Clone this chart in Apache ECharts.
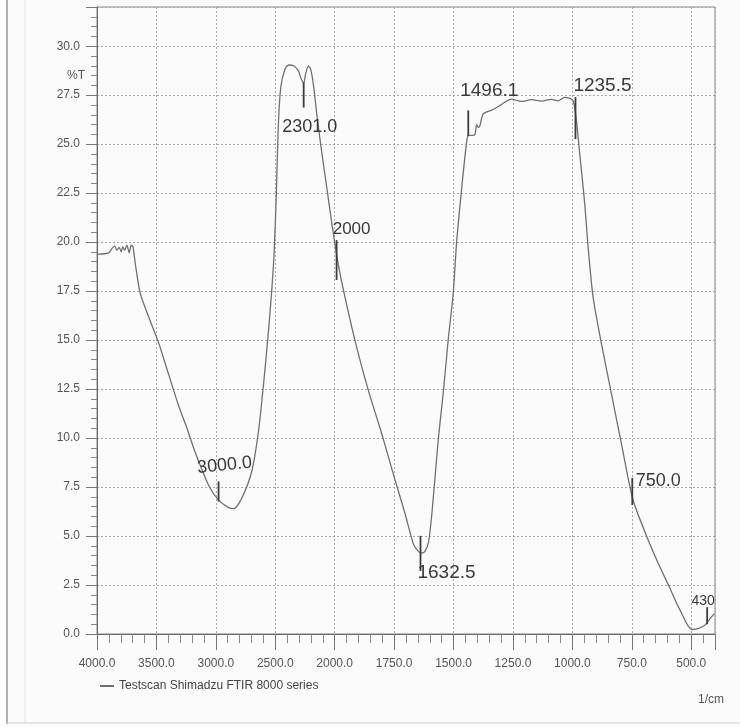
<!DOCTYPE html>
<html><head><meta charset="utf-8">
<script src="https://cdn.jsdelivr.net/npm/echarts@6/dist/echarts.min.js"></script>
<style>html,body{margin:0;padding:0;background:#fbfbfb}#c{width:740px;height:727px}</style>
</head><body><div id="c"></div>
<script>
// ---- data ----
const seriesName = 'Testscan Shimadzu FTIR 8000 series';
const xTickValues = [4000, 3500, 3000, 2500, 2000, 1750, 1500, 1250, 1000, 750, 500];
const xAxisEnd = 400;
const wavenumbers = [4000, 3986, 3902, 3874, 3851, 3832, 3813, 3796, 3784, 3767, 3748, 3729, 3712, 3697, 3678, 3636, 3560, 3482, 3400, 3313, 3240, 3174, 3061, 2977, 2893, 2850, 2782, 2697, 2641, 2599, 2557, 2515, 2492, 2475, 2454, 2420, 2387, 2345, 2305, 2286, 2261, 2244, 2221, 2201, 2176, 2151, 2109, 2067, 2025, 1991, 1971, 1915, 1859, 1803, 1747, 1705, 1669, 1648, 1635, 1621, 1605, 1590, 1564, 1543, 1522, 1501, 1487, 1466, 1445, 1438, 1424, 1410, 1403, 1396, 1389, 1375, 1340, 1312, 1291, 1256, 1214, 1172, 1130, 1088, 1060, 1032, 1004, 993, 983, 969, 948, 934, 913, 878, 836, 794, 745, 682, 640, 591, 563, 542, 514, 493, 472, 444, 415, 402];
const transmittance = [19.4, 19.39, 19.45, 19.68, 19.8, 19.59, 19.73, 19.51, 19.76, 19.59, 19.85, 19.45, 19.85, 19.76, 18.91, 17.38, 16.1, 14.87, 13.3, 11.65, 10.45, 9.28, 7.59, 6.83, 6.45, 6.4, 6.93, 8.32, 10.36, 12.73, 15.47, 18.86, 22.26, 25.84, 27.88, 28.8, 29.04, 29.0, 28.74, 28.4, 28.1, 28.6, 29.0, 28.8, 27.9, 26.54, 24.59, 22.8, 21.0, 19.3, 18.0, 15.0, 12.46, 10.26, 7.89, 6.19, 4.6, 4.22, 4.13, 4.2, 4.7, 6.3, 9.95, 12.34, 15.07, 17.44, 20.0, 22.72, 25.1, 25.45, 25.45, 25.5, 26.0, 25.85, 25.95, 26.55, 26.74, 26.91, 27.09, 27.3, 27.18, 27.27, 27.2, 27.29, 27.21, 27.39, 27.3, 27.05, 26.2, 24.5, 21.95, 19.77, 17.2, 14.83, 12.28, 9.73, 6.85, 4.82, 3.64, 2.37, 1.61, 1.1, 0.43, 0.23, 0.27, 0.44, 0.87, 1.04];
const yMin = 0, yMax = 32, yStep = 2.5;
// handwritten peak annotations
const annotationLabels = ['3000.0', '2301.0', '2000', '1632.5', '1496.1', '1235.5', '750.0', '430'];
const annotationWavenumbers = [2977, 2261, 1992, 1639, 1438, 987, 748, 433];
const annotationTop = [7.79, 28.15, 20.1, 5.01, 26.72, 27.4, 7.96, 1.37];
const annotationBottom = [6.76, 26.87, 18.07, 3.22, 25.4, 25.26, 6.58, 0.5];

// ---- styling (pixel offsets of handwritten text relative to mark top) ----
const annotationStyle = [
  {dx: 6, dy: -16, rot: 0.1, size: 18},
  {dx: 6, dy: 45, rot: 0, size: 18},
  {dx: 15, dy: -11, rot: 0, size: 17},
  {dx: 26, dy: 37, rot: 0, size: 19},
  {dx: 21, dy: -20, rot: 0, size: 19},
  {dx: 27, dy: -11, rot: 0, size: 19},
  {dx: 26, dy: 3, rot: 0, size: 18},
  {dx: -4, dy: -6, rot: 0, size: 14}
];

// piecewise-linear wavenumber axis (the instrument scale halves its step at 2000)
function toPos(wn) {
  for (let i = 0; i < xTickValues.length - 1; i++) {
    const a = xTickValues[i], b = xTickValues[i + 1];
    if (wn <= a && wn >= b) return i + (a - wn) / (a - b);
  }
  const n = xTickValues.length - 1;
  const step = xTickValues[n - 1] - xTickValues[n];
  return n + (xTickValues[n] - wn) / step;
}

const lineData = wavenumbers.map((w, i) => [toPos(w), transmittance[i]]);
const annData = annotationLabels.map((t, i) => [toPos(annotationWavenumbers[i]), annotationTop[i], annotationBottom[i], i]);

const sans = "'Liberation Sans', Arial, sans-serif";
const chart = echarts.init(document.getElementById('c'), null, {renderer: 'canvas'});
chart.setOption({
  backgroundColor: '#fbfbfb',
  animation: false,
  grid: {left: 97, right: 25, top: 7, bottom: 93, show: true, borderColor: '#8a8a8a', borderWidth: 1},
  legend: {
    data: [seriesName], left: 94, top: 675, itemWidth: 14, itemHeight: 2, itemGap: 6,
    textStyle: {fontFamily: sans, fontSize: 12, color: '#444'}
  },
  xAxis: {
    type: 'value', min: 0, max: toPos(xAxisEnd), interval: 1,
    axisLine: {show: true, lineStyle: {color: '#666', width: 1}},
    axisTick: {show: true, length: 16, lineStyle: {color: '#777'}},
    minorTick: {show: true, splitNumber: 5, length: 9, lineStyle: {color: '#888'}},
    axisLabel: {
      showMaxLabel: false, margin: 24, color: '#555', fontFamily: sans, fontSize: 12,
      formatter: v => (Number.isInteger(v) && xTickValues[v] != null) ? xTickValues[v].toFixed(1) : ''
    },
    splitLine: {show: true, lineStyle: {color: '#a8a8a8', type: [2, 2], width: 1}}
  },
  yAxis: {
    type: 'value', min: yMin, max: yMax, interval: yStep,
    axisLine: {show: true, lineStyle: {color: '#666', width: 1}},
    axisTick: {show: true, length: 11, lineStyle: {color: '#777'}},
    minorTick: {show: true, splitNumber: 5, length: 6, lineStyle: {color: '#888'}},
    axisLabel: {showMaxLabel: false, margin: 17, color: '#555', fontFamily: sans, fontSize: 12,
      formatter: v => v.toFixed(1)},
    splitLine: {show: true, lineStyle: {color: '#a8a8a8', type: [2, 2], width: 1}}
  },
  series: [
    {
      name: seriesName, type: 'line', data: lineData, symbol: 'none', smooth: 0.25,
      lineStyle: {color: '#707070', width: 1.3}, itemStyle: {color: '#707070'}
    },
    {
      name: 'annotations', type: 'custom', data: annData, clip: false, z: 5,
      encode: {x: 0, y: [1, 2]},
      renderItem: function (params, api) {
        const idx = api.value(3);
        const p1 = api.coord([api.value(0), api.value(1)]);
        const p2 = api.coord([api.value(0), api.value(2)]);
        const s = annotationStyle[idx];
        return {
          type: 'group', children: [
            {type: 'line', shape: {x1: p1[0], y1: p1[1], x2: p2[0], y2: p2[1]},
              style: {stroke: '#3c3c3c', lineWidth: 1.8}},
            {type: 'text', x: p1[0] + s.dx, y: p1[1] + s.dy, rotation: s.rot,
              style: {text: annotationLabels[idx], fill: '#3a3a3a', fontFamily: sans,
                fontSize: s.size, align: 'center', verticalAlign: 'middle'}}
          ]
        };
      }
    }
  ],
  graphic: [
    {type: 'text', left: 67, top: 70, style: {text: '%T', fill: '#555', fontFamily: sans, fontSize: 12}},
    {type: 'text', left: 698, top: 694, style: {text: '1/cm', fill: '#555', fontFamily: sans, fontSize: 12}},
    {type: 'rect', shape: {x: 0, y: 0, width: 6, height: 727}, style: {fill: '#ffffff'}},
    {type: 'line', shape: {x1: 7, y1: 0, x2: 7, y2: 724}, style: {stroke: '#9a9a9a', lineWidth: 1.5}},
    {type: 'line', shape: {x1: 25, y1: 0, x2: 25, y2: 724}, style: {stroke: '#e2e2e2', lineWidth: 1}},
    {type: 'line', shape: {x1: 7, y1: 723, x2: 740, y2: 723}, style: {stroke: '#d0d0d0', lineWidth: 1}}
  ]
});
</script>
</body></html>
